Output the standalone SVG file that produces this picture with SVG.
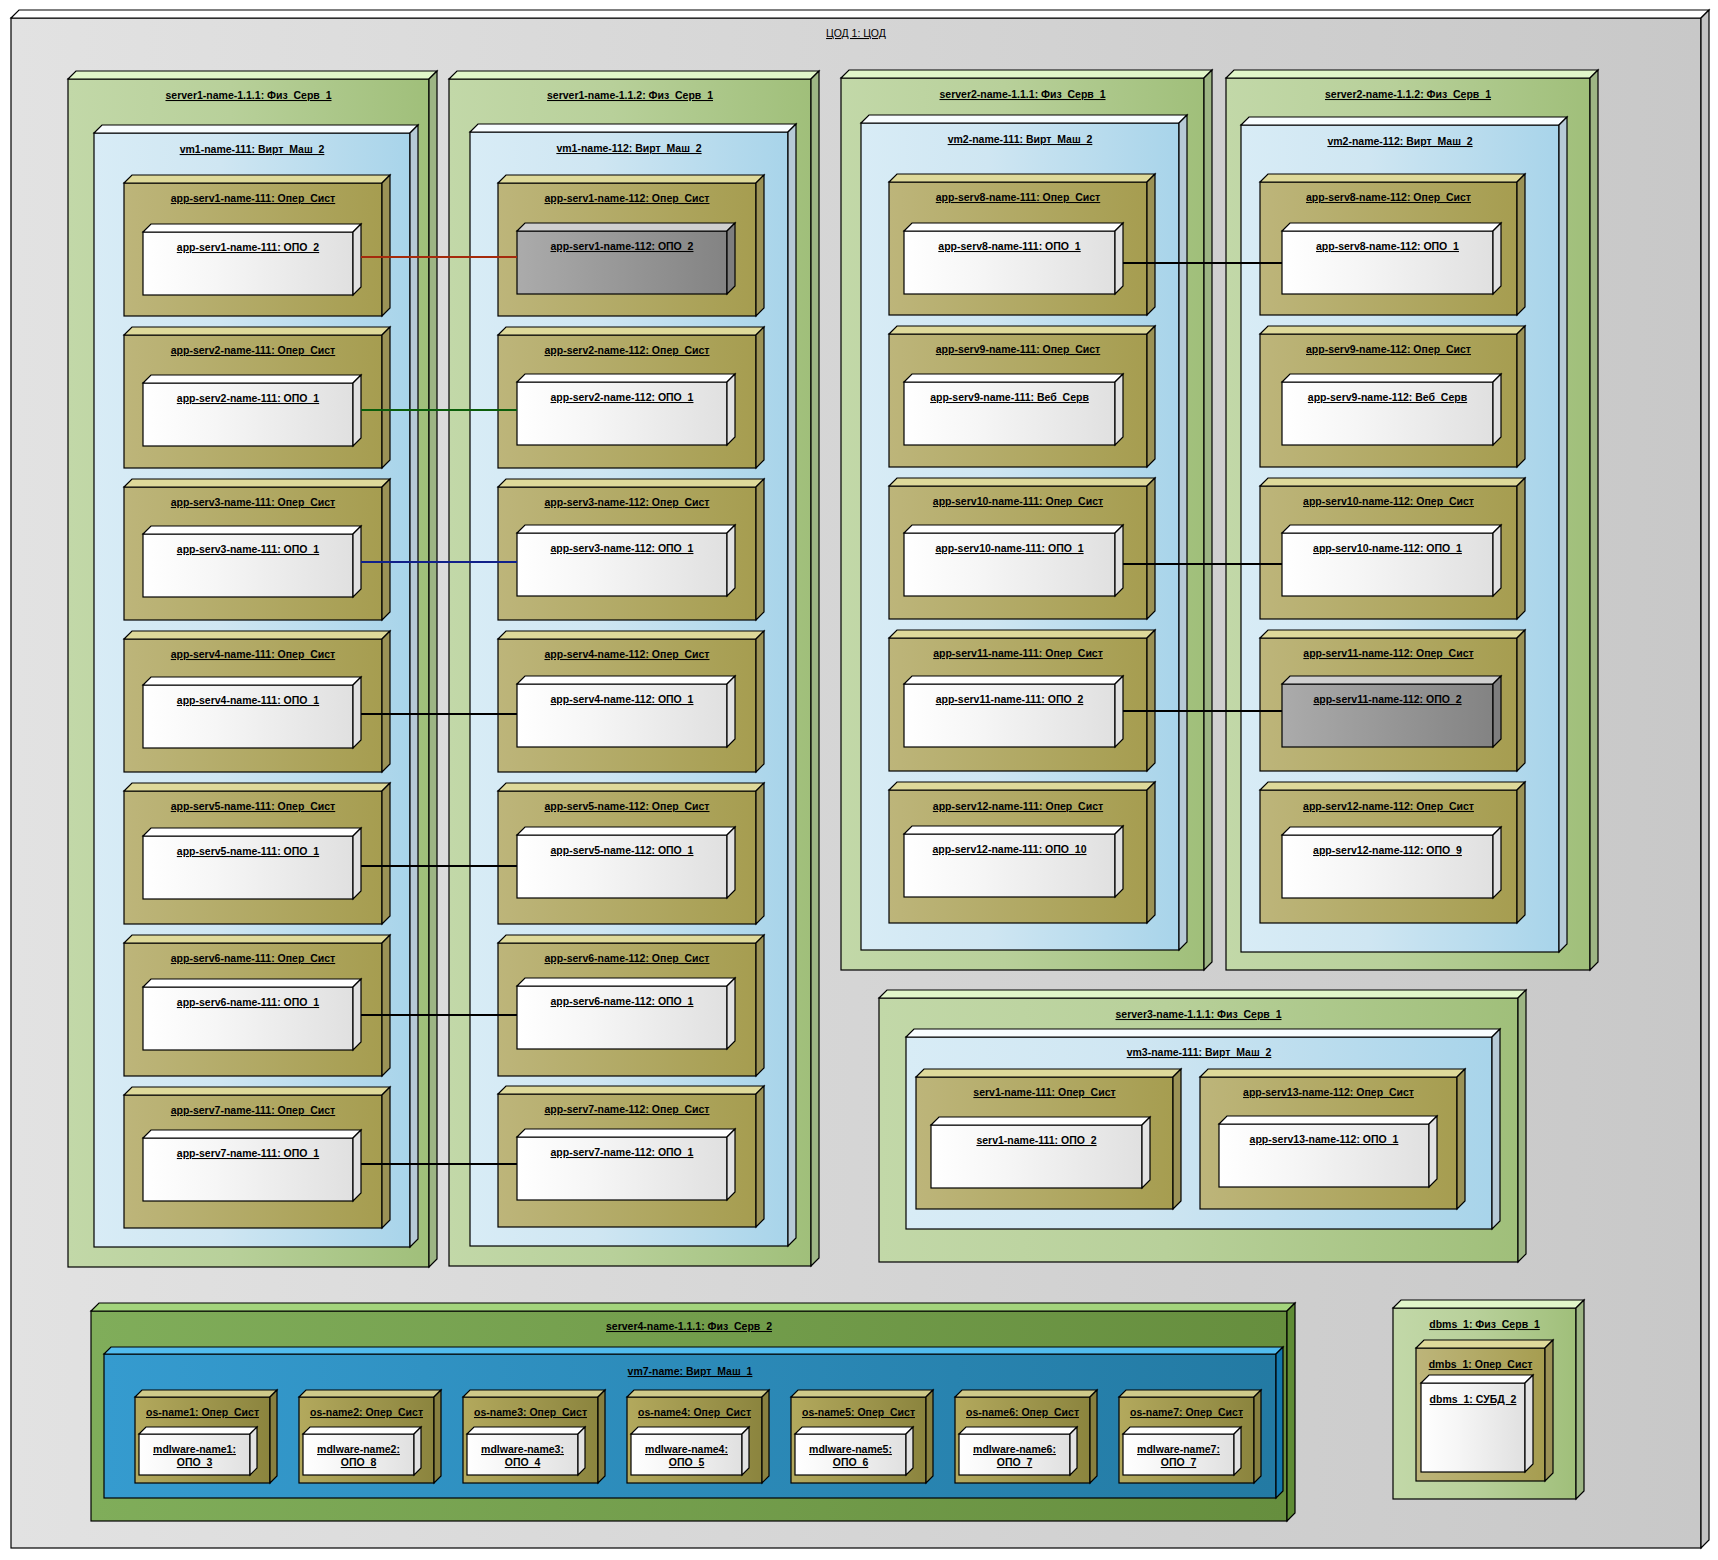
<svg xmlns="http://www.w3.org/2000/svg" width="1718" height="1560" viewBox="0 0 1718 1560">
<defs>
<linearGradient id="gOut" x1="0" y1="0" x2="1" y2="0"><stop offset="0" stop-color="#e2e2e2"/><stop offset="1" stop-color="#c8c8c8"/></linearGradient>
<linearGradient id="gSrv" x1="0" y1="0" x2="1" y2="0"><stop offset="0" stop-color="#c2d8a8"/><stop offset="0.45" stop-color="#b8d09a"/><stop offset="1" stop-color="#a0bf7a"/></linearGradient>
<linearGradient id="gVm" x1="0" y1="0" x2="1" y2="0"><stop offset="0" stop-color="#d8ecf6"/><stop offset="0.4" stop-color="#cfe6f2"/><stop offset="1" stop-color="#a8d4ea"/></linearGradient>
<linearGradient id="gOs" x1="0" y1="0" x2="1" y2="0"><stop offset="0" stop-color="#bdb57a"/><stop offset="1" stop-color="#a69d50"/></linearGradient>
<linearGradient id="gArt" x1="0" y1="0" x2="1" y2="0"><stop offset="0" stop-color="#ffffff"/><stop offset="0.35" stop-color="#f6f6f6"/><stop offset="1" stop-color="#e0e0e0"/></linearGradient>
<linearGradient id="gGray" x1="0" y1="0" x2="1" y2="0"><stop offset="0" stop-color="#ababab"/><stop offset="1" stop-color="#838383"/></linearGradient>
<linearGradient id="gS4" x1="0" y1="0" x2="1" y2="0"><stop offset="0" stop-color="#80ad5a"/><stop offset="1" stop-color="#668e3e"/></linearGradient>
<linearGradient id="gV7" x1="0" y1="0" x2="1" y2="0"><stop offset="0" stop-color="#359bcf"/><stop offset="1" stop-color="#237aa3"/></linearGradient>
<linearGradient id="gO4" x1="0" y1="0" x2="1" y2="0"><stop offset="0" stop-color="#b3a95d"/><stop offset="1" stop-color="#8b843e"/></linearGradient>
</defs>
<style>
.n rect,.n path{stroke:#000;stroke-width:1.2;stroke-linejoin:miter}
.out .fr{fill:url(#gOut)} .out .tp{fill:#ffffff} .out .sd{fill:#c4c4c4}
.srv .fr{fill:url(#gSrv)} .srv .tp{fill:#e1f6c9} .srv .sd{fill:#9db584}
.vm .fr{fill:url(#gVm)} .vm .tp{fill:#f8fdff} .vm .sd{fill:#b6cad6}
.os .fr{fill:url(#gOs)} .os .tp{fill:#ded99a} .os .sd{fill:#9b9256}
.art .fr{fill:url(#gArt)} .art .tp{fill:#ffffff} .art .sd{fill:#e2e2e2}
.gry .fr{fill:url(#gGray)} .gry .tp{fill:#cfcfcf} .gry .sd{fill:#7e7e7e}
.s4 .fr{fill:url(#gS4)} .s4 .tp{fill:#a3d47c} .s4 .sd{fill:#5f8c35}
.v7 .fr{fill:url(#gV7)} .v7 .tp{fill:#51bbee} .v7 .sd{fill:#1277ad}
.o4 .fr{fill:url(#gO4)} .o4 .tp{fill:#cfca8a} .o4 .sd{fill:#888040}
text{font-family:"Liberation Sans",Arial,sans-serif;font-size:10.5px;font-weight:bold;text-anchor:middle;text-decoration:underline;text-underline-offset:3px;fill:#000}
.cn line{stroke-width:2;fill:none}
</style>
<rect x="0" y="0" width="1718" height="1560" fill="#ffffff"/>

<g id="cod1" class="n out"><rect class="fr" x="11" y="18" width="1690" height="1530"/><path class="tp" d="M11 18l8-8h1690l-8 8z"/><path class="sd" d="M1701 18l8-8v1530l-8 8z"/><text x="856" y="37" style="font-weight:normal">ЦОД 1: ЦОД</text></g>

<!-- Column 1 -->
<g id="server1-111" class="n srv"><rect class="fr" x="68" y="79" width="361" height="1188"/><path class="tp" d="M68 79l8-8h361l-8 8z"/><path class="sd" d="M429 79l8-8v1188l-8 8z"/><text x="248.5" y="99">server1-name-1.1.1: Физ_Серв_1</text></g>
<g id="vm1-111" class="n vm"><rect class="fr" x="94" y="133" width="316" height="1114"/><path class="tp" d="M94 133l8-8h316l-8 8z"/><path class="sd" d="M410 133l8-8v1114l-8 8z"/><text x="252" y="153">vm1-name-111: Вирт_Маш_2</text></g>
<g id="os1-111" class="n os"><rect class="fr" x="124" y="183" width="258" height="133"/><path class="tp" d="M124 183l8-8h258l-8 8z"/><path class="sd" d="M382 183l8-8v133l-8 8z"/><text x="253" y="202">app-serv1-name-111: Опер_Сист</text></g>
<g id="art1-111" class="n art"><rect class="fr" x="143" y="232" width="210" height="63"/><path class="tp" d="M143 232l8-8h210l-8 8z"/><path class="sd" d="M353 232l8-8v63l-8 8z"/><text x="248" y="251">app-serv1-name-111: ОПО_2</text></g>
<g id="os2-111" class="n os"><rect class="fr" x="124" y="335" width="258" height="133"/><path class="tp" d="M124 335l8-8h258l-8 8z"/><path class="sd" d="M382 335l8-8v133l-8 8z"/><text x="253" y="354">app-serv2-name-111: Опер_Сист</text></g>
<g id="art2-111" class="n art"><rect class="fr" x="143" y="383" width="210" height="63"/><path class="tp" d="M143 383l8-8h210l-8 8z"/><path class="sd" d="M353 383l8-8v63l-8 8z"/><text x="248" y="402">app-serv2-name-111: ОПО_1</text></g>
<g id="os3-111" class="n os"><rect class="fr" x="124" y="487" width="258" height="133"/><path class="tp" d="M124 487l8-8h258l-8 8z"/><path class="sd" d="M382 487l8-8v133l-8 8z"/><text x="253" y="506">app-serv3-name-111: Опер_Сист</text></g>
<g id="art3-111" class="n art"><rect class="fr" x="143" y="534" width="210" height="63"/><path class="tp" d="M143 534l8-8h210l-8 8z"/><path class="sd" d="M353 534l8-8v63l-8 8z"/><text x="248" y="553">app-serv3-name-111: ОПО_1</text></g>
<g id="os4-111" class="n os"><rect class="fr" x="124" y="639" width="258" height="133"/><path class="tp" d="M124 639l8-8h258l-8 8z"/><path class="sd" d="M382 639l8-8v133l-8 8z"/><text x="253" y="658">app-serv4-name-111: Опер_Сист</text></g>
<g id="art4-111" class="n art"><rect class="fr" x="143" y="685" width="210" height="63"/><path class="tp" d="M143 685l8-8h210l-8 8z"/><path class="sd" d="M353 685l8-8v63l-8 8z"/><text x="248" y="704">app-serv4-name-111: ОПО_1</text></g>
<g id="os5-111" class="n os"><rect class="fr" x="124" y="791" width="258" height="133"/><path class="tp" d="M124 791l8-8h258l-8 8z"/><path class="sd" d="M382 791l8-8v133l-8 8z"/><text x="253" y="810">app-serv5-name-111: Опер_Сист</text></g>
<g id="art5-111" class="n art"><rect class="fr" x="143" y="836" width="210" height="63"/><path class="tp" d="M143 836l8-8h210l-8 8z"/><path class="sd" d="M353 836l8-8v63l-8 8z"/><text x="248" y="855">app-serv5-name-111: ОПО_1</text></g>
<g id="os6-111" class="n os"><rect class="fr" x="124" y="943" width="258" height="133"/><path class="tp" d="M124 943l8-8h258l-8 8z"/><path class="sd" d="M382 943l8-8v133l-8 8z"/><text x="253" y="962">app-serv6-name-111: Опер_Сист</text></g>
<g id="art6-111" class="n art"><rect class="fr" x="143" y="987" width="210" height="63"/><path class="tp" d="M143 987l8-8h210l-8 8z"/><path class="sd" d="M353 987l8-8v63l-8 8z"/><text x="248" y="1006">app-serv6-name-111: ОПО_1</text></g>
<g id="os7-111" class="n os"><rect class="fr" x="124" y="1095" width="258" height="133"/><path class="tp" d="M124 1095l8-8h258l-8 8z"/><path class="sd" d="M382 1095l8-8v133l-8 8z"/><text x="253" y="1114">app-serv7-name-111: Опер_Сист</text></g>
<g id="art7-111" class="n art"><rect class="fr" x="143" y="1138" width="210" height="63"/><path class="tp" d="M143 1138l8-8h210l-8 8z"/><path class="sd" d="M353 1138l8-8v63l-8 8z"/><text x="248" y="1157">app-serv7-name-111: ОПО_1</text></g>

<!-- Column 2 -->
<g id="server1-112" class="n srv"><rect class="fr" x="449" y="79" width="362" height="1187"/><path class="tp" d="M449 79l8-8h362l-8 8z"/><path class="sd" d="M811 79l8-8v1187l-8 8z"/><text x="630" y="99">server1-name-1.1.2: Физ_Серв_1</text></g>
<g id="vm1-112" class="n vm"><rect class="fr" x="470" y="132" width="318" height="1114"/><path class="tp" d="M470 132l8-8h318l-8 8z"/><path class="sd" d="M788 132l8-8v1114l-8 8z"/><text x="629" y="152">vm1-name-112: Вирт_Маш_2</text></g>
<g id="os1-112" class="n os"><rect class="fr" x="498" y="183" width="258" height="133"/><path class="tp" d="M498 183l8-8h258l-8 8z"/><path class="sd" d="M756 183l8-8v133l-8 8z"/><text x="627" y="202">app-serv1-name-112: Опер_Сист</text></g>
<g id="art1-112" class="n gry"><rect class="fr" x="517" y="231" width="210" height="63"/><path class="tp" d="M517 231l8-8h210l-8 8z"/><path class="sd" d="M727 231l8-8v63l-8 8z"/><text x="622" y="250">app-serv1-name-112: ОПО_2</text></g>
<g id="os2-112" class="n os"><rect class="fr" x="498" y="335" width="258" height="133"/><path class="tp" d="M498 335l8-8h258l-8 8z"/><path class="sd" d="M756 335l8-8v133l-8 8z"/><text x="627" y="354">app-serv2-name-112: Опер_Сист</text></g>
<g id="art2-112" class="n art"><rect class="fr" x="517" y="382" width="210" height="63"/><path class="tp" d="M517 382l8-8h210l-8 8z"/><path class="sd" d="M727 382l8-8v63l-8 8z"/><text x="622" y="401">app-serv2-name-112: ОПО_1</text></g>
<g id="os3-112" class="n os"><rect class="fr" x="498" y="487" width="258" height="133"/><path class="tp" d="M498 487l8-8h258l-8 8z"/><path class="sd" d="M756 487l8-8v133l-8 8z"/><text x="627" y="506">app-serv3-name-112: Опер_Сист</text></g>
<g id="art3-112" class="n art"><rect class="fr" x="517" y="533" width="210" height="63"/><path class="tp" d="M517 533l8-8h210l-8 8z"/><path class="sd" d="M727 533l8-8v63l-8 8z"/><text x="622" y="552">app-serv3-name-112: ОПО_1</text></g>
<g id="os4-112" class="n os"><rect class="fr" x="498" y="639" width="258" height="133"/><path class="tp" d="M498 639l8-8h258l-8 8z"/><path class="sd" d="M756 639l8-8v133l-8 8z"/><text x="627" y="658">app-serv4-name-112: Опер_Сист</text></g>
<g id="art4-112" class="n art"><rect class="fr" x="517" y="684" width="210" height="63"/><path class="tp" d="M517 684l8-8h210l-8 8z"/><path class="sd" d="M727 684l8-8v63l-8 8z"/><text x="622" y="703">app-serv4-name-112: ОПО_1</text></g>
<g id="os5-112" class="n os"><rect class="fr" x="498" y="791" width="258" height="133"/><path class="tp" d="M498 791l8-8h258l-8 8z"/><path class="sd" d="M756 791l8-8v133l-8 8z"/><text x="627" y="810">app-serv5-name-112: Опер_Сист</text></g>
<g id="art5-112" class="n art"><rect class="fr" x="517" y="835" width="210" height="63"/><path class="tp" d="M517 835l8-8h210l-8 8z"/><path class="sd" d="M727 835l8-8v63l-8 8z"/><text x="622" y="854">app-serv5-name-112: ОПО_1</text></g>
<g id="os6-112" class="n os"><rect class="fr" x="498" y="943" width="258" height="133"/><path class="tp" d="M498 943l8-8h258l-8 8z"/><path class="sd" d="M756 943l8-8v133l-8 8z"/><text x="627" y="962">app-serv6-name-112: Опер_Сист</text></g>
<g id="art6-112" class="n art"><rect class="fr" x="517" y="986" width="210" height="63"/><path class="tp" d="M517 986l8-8h210l-8 8z"/><path class="sd" d="M727 986l8-8v63l-8 8z"/><text x="622" y="1005">app-serv6-name-112: ОПО_1</text></g>
<g id="os7-112" class="n os"><rect class="fr" x="498" y="1094" width="258" height="133"/><path class="tp" d="M498 1094l8-8h258l-8 8z"/><path class="sd" d="M756 1094l8-8v133l-8 8z"/><text x="627" y="1113">app-serv7-name-112: Опер_Сист</text></g>
<g id="art7-112" class="n art"><rect class="fr" x="517" y="1137" width="210" height="63"/><path class="tp" d="M517 1137l8-8h210l-8 8z"/><path class="sd" d="M727 1137l8-8v63l-8 8z"/><text x="622" y="1156">app-serv7-name-112: ОПО_1</text></g>

<!-- Column 3 -->
<g id="server2-111" class="n srv"><rect class="fr" x="841" y="78" width="363" height="892"/><path class="tp" d="M841 78l8-8h363l-8 8z"/><path class="sd" d="M1204 78l8-8v892l-8 8z"/><text x="1022.5" y="98">server2-name-1.1.1: Физ_Серв_1</text></g>
<g id="vm2-111" class="n vm"><rect class="fr" x="861" y="123" width="318" height="827"/><path class="tp" d="M861 123l8-8h318l-8 8z"/><path class="sd" d="M1179 123l8-8v827l-8 8z"/><text x="1020" y="143">vm2-name-111: Вирт_Маш_2</text></g>
<g id="os8-111" class="n os"><rect class="fr" x="889" y="182" width="258" height="133"/><path class="tp" d="M889 182l8-8h258l-8 8z"/><path class="sd" d="M1147 182l8-8v133l-8 8z"/><text x="1018" y="201">app-serv8-name-111: Опер_Сист</text></g>
<g id="art8-111" class="n art"><rect class="fr" x="904" y="231" width="211" height="63"/><path class="tp" d="M904 231l8-8h211l-8 8z"/><path class="sd" d="M1115 231l8-8v63l-8 8z"/><text x="1009.5" y="250">app-serv8-name-111: ОПО_1</text></g>
<g id="os9-111" class="n os"><rect class="fr" x="889" y="334" width="258" height="133"/><path class="tp" d="M889 334l8-8h258l-8 8z"/><path class="sd" d="M1147 334l8-8v133l-8 8z"/><text x="1018" y="353">app-serv9-name-111: Опер_Сист</text></g>
<g id="art9-111" class="n art"><rect class="fr" x="904" y="382" width="211" height="63"/><path class="tp" d="M904 382l8-8h211l-8 8z"/><path class="sd" d="M1115 382l8-8v63l-8 8z"/><text x="1009.5" y="401">app-serv9-name-111: Веб_Серв</text></g>
<g id="os10-111" class="n os"><rect class="fr" x="889" y="486" width="258" height="133"/><path class="tp" d="M889 486l8-8h258l-8 8z"/><path class="sd" d="M1147 486l8-8v133l-8 8z"/><text x="1018" y="505">app-serv10-name-111: Опер_Сист</text></g>
<g id="art10-111" class="n art"><rect class="fr" x="904" y="533" width="211" height="63"/><path class="tp" d="M904 533l8-8h211l-8 8z"/><path class="sd" d="M1115 533l8-8v63l-8 8z"/><text x="1009.5" y="552">app-serv10-name-111: ОПО_1</text></g>
<g id="os11-111" class="n os"><rect class="fr" x="889" y="638" width="258" height="133"/><path class="tp" d="M889 638l8-8h258l-8 8z"/><path class="sd" d="M1147 638l8-8v133l-8 8z"/><text x="1018" y="657">app-serv11-name-111: Опер_Сист</text></g>
<g id="art11-111" class="n art"><rect class="fr" x="904" y="684" width="211" height="63"/><path class="tp" d="M904 684l8-8h211l-8 8z"/><path class="sd" d="M1115 684l8-8v63l-8 8z"/><text x="1009.5" y="703">app-serv11-name-111: ОПО_2</text></g>
<g id="os12-111" class="n os"><rect class="fr" x="889" y="790" width="258" height="133"/><path class="tp" d="M889 790l8-8h258l-8 8z"/><path class="sd" d="M1147 790l8-8v133l-8 8z"/><text x="1018" y="810">app-serv12-name-111: Опер_Сист</text></g>
<g id="art12-111" class="n art"><rect class="fr" x="904" y="834" width="211" height="63"/><path class="tp" d="M904 834l8-8h211l-8 8z"/><path class="sd" d="M1115 834l8-8v63l-8 8z"/><text x="1009.5" y="853">app-serv12-name-111: ОПО_10</text></g>

<!-- Column 4 -->
<g id="server2-112" class="n srv"><rect class="fr" x="1226" y="78" width="364" height="892"/><path class="tp" d="M1226 78l8-8h364l-8 8z"/><path class="sd" d="M1590 78l8-8v892l-8 8z"/><text x="1408" y="98">server2-name-1.1.2: Физ_Серв_1</text></g>
<g id="vm2-112" class="n vm"><rect class="fr" x="1241" y="125" width="318" height="827"/><path class="tp" d="M1241 125l8-8h318l-8 8z"/><path class="sd" d="M1559 125l8-8v827l-8 8z"/><text x="1400" y="145">vm2-name-112: Вирт_Маш_2</text></g>
<g id="os8-112" class="n os"><rect class="fr" x="1260" y="182" width="257" height="133"/><path class="tp" d="M1260 182l8-8h257l-8 8z"/><path class="sd" d="M1517 182l8-8v133l-8 8z"/><text x="1388.5" y="201">app-serv8-name-112: Опер_Сист</text></g>
<g id="art8-112" class="n art"><rect class="fr" x="1282" y="231" width="211" height="63"/><path class="tp" d="M1282 231l8-8h211l-8 8z"/><path class="sd" d="M1493 231l8-8v63l-8 8z"/><text x="1387.5" y="250">app-serv8-name-112: ОПО_1</text></g>
<g id="os9-112" class="n os"><rect class="fr" x="1260" y="334" width="257" height="133"/><path class="tp" d="M1260 334l8-8h257l-8 8z"/><path class="sd" d="M1517 334l8-8v133l-8 8z"/><text x="1388.5" y="353">app-serv9-name-112: Опер_Сист</text></g>
<g id="art9-112" class="n art"><rect class="fr" x="1282" y="382" width="211" height="63"/><path class="tp" d="M1282 382l8-8h211l-8 8z"/><path class="sd" d="M1493 382l8-8v63l-8 8z"/><text x="1387.5" y="401">app-serv9-name-112: Веб_Серв</text></g>
<g id="os10-112" class="n os"><rect class="fr" x="1260" y="486" width="257" height="133"/><path class="tp" d="M1260 486l8-8h257l-8 8z"/><path class="sd" d="M1517 486l8-8v133l-8 8z"/><text x="1388.5" y="505">app-serv10-name-112: Опер_Сист</text></g>
<g id="art10-112" class="n art"><rect class="fr" x="1282" y="533" width="211" height="63"/><path class="tp" d="M1282 533l8-8h211l-8 8z"/><path class="sd" d="M1493 533l8-8v63l-8 8z"/><text x="1387.5" y="552">app-serv10-name-112: ОПО_1</text></g>
<g id="os11-112" class="n os"><rect class="fr" x="1260" y="638" width="257" height="133"/><path class="tp" d="M1260 638l8-8h257l-8 8z"/><path class="sd" d="M1517 638l8-8v133l-8 8z"/><text x="1388.5" y="657">app-serv11-name-112: Опер_Сист</text></g>
<g id="art11-112" class="n gry"><rect class="fr" x="1282" y="684" width="211" height="63"/><path class="tp" d="M1282 684l8-8h211l-8 8z"/><path class="sd" d="M1493 684l8-8v63l-8 8z"/><text x="1387.5" y="703">app-serv11-name-112: ОПО_2</text></g>
<g id="os12-112" class="n os"><rect class="fr" x="1260" y="790" width="257" height="133"/><path class="tp" d="M1260 790l8-8h257l-8 8z"/><path class="sd" d="M1517 790l8-8v133l-8 8z"/><text x="1388.5" y="810">app-serv12-name-112: Опер_Сист</text></g>
<g id="art12-112" class="n art"><rect class="fr" x="1282" y="835" width="211" height="63"/><path class="tp" d="M1282 835l8-8h211l-8 8z"/><path class="sd" d="M1493 835l8-8v63l-8 8z"/><text x="1387.5" y="854">app-serv12-name-112: ОПО_9</text></g>

<!-- Server 3 -->
<g id="server3-111" class="n srv"><rect class="fr" x="879" y="998" width="639" height="264"/><path class="tp" d="M879 998l8-8h639l-8 8z"/><path class="sd" d="M1518 998l8-8v264l-8 8z"/><text x="1198.5" y="1018">server3-name-1.1.1: Физ_Серв_1</text></g>
<g id="vm3-111" class="n vm"><rect class="fr" x="906" y="1037" width="586" height="192"/><path class="tp" d="M906 1037l8-8h586l-8 8z"/><path class="sd" d="M1492 1037l8-8v192l-8 8z"/><text x="1199" y="1056">vm3-name-111: Вирт_Маш_2</text></g>
<g id="os-serv1-111" class="n os"><rect class="fr" x="916" y="1077" width="257" height="132"/><path class="tp" d="M916 1077l8-8h257l-8 8z"/><path class="sd" d="M1173 1077l8-8v132l-8 8z"/><text x="1044.5" y="1096">serv1-name-111: Опер_Сист</text></g>
<g id="art-serv1-111" class="n art"><rect class="fr" x="931" y="1125" width="211" height="63"/><path class="tp" d="M931 1125l8-8h211l-8 8z"/><path class="sd" d="M1142 1125l8-8v63l-8 8z"/><text x="1036.5" y="1144">serv1-name-111: ОПО_2</text></g>
<g id="os13-112" class="n os"><rect class="fr" x="1200" y="1077" width="257" height="132"/><path class="tp" d="M1200 1077l8-8h257l-8 8z"/><path class="sd" d="M1457 1077l8-8v132l-8 8z"/><text x="1328.5" y="1096">app-serv13-name-112: Опер_Сист</text></g>
<g id="art13-112" class="n art"><rect class="fr" x="1219" y="1124" width="210" height="63"/><path class="tp" d="M1219 1124l8-8h210l-8 8z"/><path class="sd" d="M1429 1124l8-8v63l-8 8z"/><text x="1324" y="1143">app-serv13-name-112: ОПО_1</text></g>

<!-- Server 4 -->
<g id="server4-111" class="n s4"><rect class="fr" x="91" y="1311" width="1196" height="210"/><path class="tp" d="M91 1311l8-8h1196l-8 8z"/><path class="sd" d="M1287 1311l8-8v210l-8 8z"/><text x="689" y="1330">server4-name-1.1.1: Физ_Серв_2</text></g>
<g id="vm7" class="n v7"><rect class="fr" x="104" y="1354" width="1172" height="144"/><path class="tp" d="M104 1354l7-7h1172l-7 7z"/><path class="sd" d="M1276 1354l7-7v144l-7 7z"/><text x="690" y="1375">vm7-name: Вирт_Маш_1</text></g>
<g id="os-name1" class="n o4"><rect class="fr" x="135" y="1397" width="135" height="86"/><path class="tp" d="M135 1397l7-7h135l-7 7z"/><path class="sd" d="M270 1397l7-7v86l-7 7z"/><text x="202.5" y="1416">os-name1: Опер_Сист</text></g>
<g id="mdlware-name1" class="n art"><rect class="fr" x="139" y="1434" width="111" height="41"/><path class="tp" d="M139 1434l7-7h111l-7 7z"/><path class="sd" d="M250 1434l7-7v41l-7 7z"/><text x="194.5" y="1453">mdlware-name1: </text><text x="194.5" y="1466">ОПО_3</text></g>
<g id="os-name2" class="n o4"><rect class="fr" x="299" y="1397" width="135" height="86"/><path class="tp" d="M299 1397l7-7h135l-7 7z"/><path class="sd" d="M434 1397l7-7v86l-7 7z"/><text x="366.5" y="1416">os-name2: Опер_Сист</text></g>
<g id="mdlware-name2" class="n art"><rect class="fr" x="303" y="1434" width="111" height="41"/><path class="tp" d="M303 1434l7-7h111l-7 7z"/><path class="sd" d="M414 1434l7-7v41l-7 7z"/><text x="358.5" y="1453">mdlware-name2: </text><text x="358.5" y="1466">ОПО_8</text></g>
<g id="os-name3" class="n o4"><rect class="fr" x="463" y="1397" width="135" height="86"/><path class="tp" d="M463 1397l7-7h135l-7 7z"/><path class="sd" d="M598 1397l7-7v86l-7 7z"/><text x="530.5" y="1416">os-name3: Опер_Сист</text></g>
<g id="mdlware-name3" class="n art"><rect class="fr" x="467" y="1434" width="111" height="41"/><path class="tp" d="M467 1434l7-7h111l-7 7z"/><path class="sd" d="M578 1434l7-7v41l-7 7z"/><text x="522.5" y="1453">mdlware-name3: </text><text x="522.5" y="1466">ОПО_4</text></g>
<g id="os-name4" class="n o4"><rect class="fr" x="627" y="1397" width="135" height="86"/><path class="tp" d="M627 1397l7-7h135l-7 7z"/><path class="sd" d="M762 1397l7-7v86l-7 7z"/><text x="694.5" y="1416">os-name4: Опер_Сист</text></g>
<g id="mdlware-name4" class="n art"><rect class="fr" x="631" y="1434" width="111" height="41"/><path class="tp" d="M631 1434l7-7h111l-7 7z"/><path class="sd" d="M742 1434l7-7v41l-7 7z"/><text x="686.5" y="1453">mdlware-name4: </text><text x="686.5" y="1466">ОПО_5</text></g>
<g id="os-name5" class="n o4"><rect class="fr" x="791" y="1397" width="135" height="86"/><path class="tp" d="M791 1397l7-7h135l-7 7z"/><path class="sd" d="M926 1397l7-7v86l-7 7z"/><text x="858.5" y="1416">os-name5: Опер_Сист</text></g>
<g id="mdlware-name5" class="n art"><rect class="fr" x="795" y="1434" width="111" height="41"/><path class="tp" d="M795 1434l7-7h111l-7 7z"/><path class="sd" d="M906 1434l7-7v41l-7 7z"/><text x="850.5" y="1453">mdlware-name5: </text><text x="850.5" y="1466">ОПО_6</text></g>
<g id="os-name6" class="n o4"><rect class="fr" x="955" y="1397" width="135" height="86"/><path class="tp" d="M955 1397l7-7h135l-7 7z"/><path class="sd" d="M1090 1397l7-7v86l-7 7z"/><text x="1022.5" y="1416">os-name6: Опер_Сист</text></g>
<g id="mdlware-name6" class="n art"><rect class="fr" x="959" y="1434" width="111" height="41"/><path class="tp" d="M959 1434l7-7h111l-7 7z"/><path class="sd" d="M1070 1434l7-7v41l-7 7z"/><text x="1014.5" y="1453">mdlware-name6: </text><text x="1014.5" y="1466">ОПО_7</text></g>
<g id="os-name7" class="n o4"><rect class="fr" x="1119" y="1397" width="135" height="86"/><path class="tp" d="M1119 1397l7-7h135l-7 7z"/><path class="sd" d="M1254 1397l7-7v86l-7 7z"/><text x="1186.5" y="1416">os-name7: Опер_Сист</text></g>
<g id="mdlware-name7" class="n art"><rect class="fr" x="1123" y="1434" width="111" height="41"/><path class="tp" d="M1123 1434l7-7h111l-7 7z"/><path class="sd" d="M1234 1434l7-7v41l-7 7z"/><text x="1178.5" y="1453">mdlware-name7: </text><text x="1178.5" y="1466">ОПО_7</text></g>

<!-- DBMS -->
<g id="dbms1-srv" class="n srv"><rect class="fr" x="1393" y="1308" width="183" height="191"/><path class="tp" d="M1393 1308l8-8h183l-8 8z"/><path class="sd" d="M1576 1308l8-8v191l-8 8z"/><text x="1484.5" y="1328">dbms_1: Физ_Серв_1</text></g>
<g id="dmbs1-os" class="n os"><rect class="fr" x="1416" y="1348" width="129" height="133"/><path class="tp" d="M1416 1348l8-8h129l-8 8z"/><path class="sd" d="M1545 1348l8-8v133l-8 8z"/><text x="1480.5" y="1368">dmbs_1: Опер_Сист</text></g>
<g id="dbms1-art" class="n art"><rect class="fr" x="1421" y="1383" width="104" height="89"/><path class="tp" d="M1421 1383l8-8h104l-8 8z"/><path class="sd" d="M1525 1383l8-8v89l-8 8z"/><text x="1473" y="1403">dbms_1: СУБД_2</text></g>

<!-- Connectors -->
<g id="connectors" class="cn">
<line x1="361" y1="257" x2="517" y2="257" stroke="#a52a0c"/>
<line x1="361" y1="410" x2="517" y2="410" stroke="#0b5e0b"/>
<line x1="361" y1="562" x2="517" y2="562" stroke="#10208a"/>
<line x1="361" y1="714" x2="517" y2="714" stroke="#000"/>
<line x1="361" y1="866" x2="517" y2="866" stroke="#000" stroke-width="1.2"/>
<line x1="361" y1="1015" x2="517" y2="1015" stroke="#000"/>
<line x1="361" y1="1164" x2="517" y2="1164" stroke="#000"/>
<line x1="1123" y1="263" x2="1282" y2="263" stroke="#000"/>
<line x1="1123" y1="564" x2="1282" y2="564" stroke="#000"/>
<line x1="1123" y1="711" x2="1282" y2="711" stroke="#000"/>
</g>
</svg>
